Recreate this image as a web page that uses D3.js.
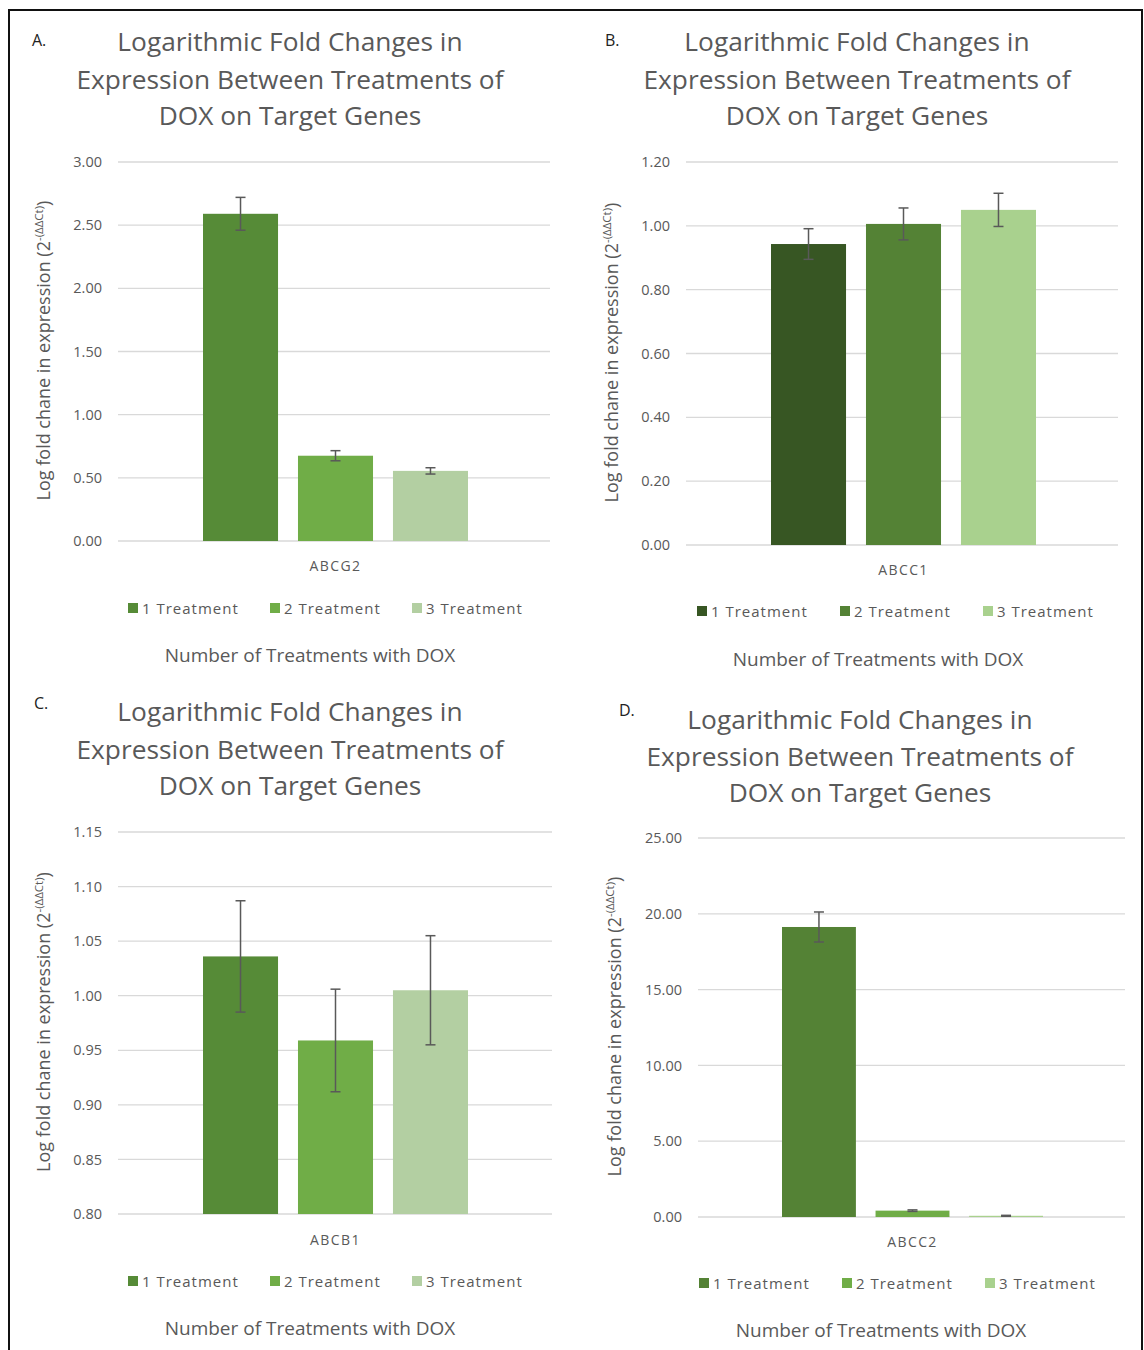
<!DOCTYPE html>
<html>
<head>
<meta charset="utf-8">
<script src="https://cdn.jsdelivr.net/npm/d3@7"></script>
<style>
  html, body { margin: 0; padding: 0; background: #fff; }
  svg { display: block; font-family: "Open Sans", "Noto Sans", sans-serif; }
</style>
</head>
<body>
<svg id="chart" width="1144" height="1350"></svg>
<script>
// Treatment groups shared by all four panels
const treatments = ["1 Treatment", "2 Treatment", "3 Treatment"];

// Panel A: ABCG2
const geneA = "ABCG2";
const meanA = [2.59, 0.675, 0.555];
const errA = [0.13, 0.04, 0.025];
const ticksA = [0, 0.5, 1.0, 1.5, 2.0, 2.5, 3.0];

// Panel B: ABCC1
const geneB = "ABCC1";
const meanB = [0.943, 1.006, 1.05];
const errB = [0.048, 0.05, 0.052];
const ticksB = [0, 0.2, 0.4, 0.6, 0.8, 1.0, 1.2];

// Panel C: ABCB1
const geneC = "ABCB1";
const meanC = [1.036, 0.959, 1.005];
const errC = [0.051, 0.047, 0.05];
const ticksC = [0.80, 0.85, 0.90, 0.95, 1.00, 1.05, 1.10, 1.15];

// Panel D: ABCC2
const geneD = "ABCC2";
const meanD = [19.13, 0.42, 0.08];
const errD = [0.99, 0.05, 0.03];
const ticksD = [0, 5, 10, 15, 20, 25];

const titleLines = ["Logarithmic Fold Changes in", "Expression Between Treatments of", "DOX on Target Genes"];
const xTitle = "Number of Treatments with DOX";

const svg = d3.select("#chart");
const textGray = "#595959";

// outer frame
svg.append("path")
  .attr("d", "M9,1352 V10 H1142 V1352")
  .attr("fill", "none").attr("stroke", "#111").attr("stroke-width", 2);

const panels = [
  { letter: "A.", lx: 32, ly: 46, tcx: 290, ty: [51, 89, 125],
    gene: geneA, mean: meanA, err: errA, ticks: ticksA,
    colors: ["#568b37", "#70ad47", "#b3cfa2"],
    yTop: 162, yBot: 541, gx0: 118, gx1: 550, bx0: 203, bx1: 468, tickX: 102,
    yLabX: 50, catY: 571, legY: 608, legX: [128, 270, 412], axY: 662, axX: 310 },
  { letter: "B.", lx: 605, ly: 46, tcx: 857, ty: [51, 89, 125],
    gene: geneB, mean: meanB, err: errB, ticks: ticksB,
    colors: ["#375623", "#548235", "#a9d18e"],
    yTop: 162, yBot: 545, gx0: 686, gx1: 1118, bx0: 771, bx1: 1036, tickX: 670,
    yLabX: 618, catY: 575, legY: 611, legX: [697, 840, 983], axY: 666, axX: 878 },
  { letter: "C.", lx: 34, ly: 709, tcx: 290, ty: [721, 759, 795],
    gene: geneC, mean: meanC, err: errC, ticks: ticksC,
    colors: ["#568b37", "#70ad47", "#b3cfa2"],
    yTop: 832, yBot: 1214, gx0: 118, gx1: 552, bx0: 203, bx1: 468, tickX: 102,
    yLabX: 50, catY: 1245, legY: 1281, legX: [128, 270, 412], axY: 1335, axX: 310 },
  { letter: "D.", lx: 619, ly: 716, tcx: 860, ty: [729, 766, 802],
    gene: geneD, mean: meanD, err: errD, ticks: ticksD,
    colors: ["#548235", "#70ad47", "#a9d18e"],
    yTop: 838, yBot: 1217, gx0: 698, gx1: 1125, bx0: 782, bx1: 1043, tickX: 682,
    yLabX: 621, catY: 1247, legY: 1283, legX: [699, 842, 985], axY: 1337, axX: 881 }
];

panels.forEach(p => {
  const g = svg.append("g");

  g.append("text").attr("x", p.lx).attr("y", p.ly)
    .attr("font-size", 16).attr("fill", "#222").text(p.letter);

  g.selectAll(".title").data(titleLines).join("text")
    .attr("x", p.tcx).attr("y", (d, i) => p.ty[i])
    .attr("text-anchor", "middle").attr("font-size", 26.3)
    .attr("fill", textGray).text(d => d);

  const domain = [p.ticks[0], p.ticks[p.ticks.length - 1]];
  const y = d3.scaleLinear().domain(domain).range([p.yBot, p.yTop]);
  const x = d3.scaleBand().domain(treatments).range([p.bx0, p.bx1])
    .paddingInner(0.21).paddingOuter(0);

  // gridlines
  g.selectAll(".grid").data(p.ticks).join("line")
    .attr("x1", p.gx0).attr("x2", p.gx1)
    .attr("y1", d => y(d)).attr("y2", d => y(d))
    .attr("stroke", "#d9d9d9").attr("stroke-width", 1.3);

  // tick labels via axis
  const axis = d3.axisLeft(y).tickValues(p.ticks).tickFormat(d3.format(".2f")).tickSize(0).tickPadding(0);
  const ag = g.append("g").attr("transform", `translate(${p.tickX},0)`).call(axis);
  ag.select(".domain").remove();
  ag.selectAll("text").attr("font-size", 14.5).attr("fill", textGray)
    .attr("font-family", "\"Open Sans\", sans-serif");

  // bars
  g.selectAll(".bar").data(treatments).join("rect")
    .attr("x", d => x(d)).attr("width", x.bandwidth())
    .attr("y", (d, i) => y(p.mean[i]))
    .attr("height", (d, i) => y(domain[0]) - y(p.mean[i]))
    .attr("fill", (d, i) => p.colors[i]);

  // error bars
  const eb = g.selectAll(".err").data(treatments).join("g")
    .attr("stroke", "#595959").attr("stroke-width", 1.5);
  eb.append("line")
    .attr("x1", d => x(d) + x.bandwidth() / 2).attr("x2", d => x(d) + x.bandwidth() / 2)
    .attr("y1", (d, i) => y(p.mean[i] + p.err[i])).attr("y2", (d, i) => y(p.mean[i] - p.err[i]));
  [1, -1].forEach(s => {
    eb.append("line")
      .attr("x1", d => x(d) + x.bandwidth() / 2 - 5).attr("x2", d => x(d) + x.bandwidth() / 2 + 5)
      .attr("y1", (d, i) => y(p.mean[i] + s * p.err[i])).attr("y2", (d, i) => y(p.mean[i] + s * p.err[i]));
  });

  // category label
  g.append("text").attr("x", (p.bx0 + p.bx1) / 2).attr("y", p.catY)
    .attr("text-anchor", "middle").attr("font-size", 14).attr("fill", textGray)
    .attr("letter-spacing", 1.4).text(p.gene);

  // legend
  const lg = g.selectAll(".leg").data(treatments).join("g")
    .attr("transform", (d, i) => `translate(${p.legX[i]},${p.legY})`);
  lg.append("rect").attr("x", 0).attr("y", -5).attr("width", 10).attr("height", 10)
    .attr("fill", (d, i) => p.colors[i]);
  lg.append("text").attr("x", 14).attr("y", 5.5).attr("font-size", 15)
    .attr("fill", textGray).attr("letter-spacing", 1).text(d => d);

  // x axis title
  g.append("text").attr("x", p.axX).attr("y", p.axY).attr("text-anchor", "middle")
    .attr("font-size", 19).attr("fill", textGray).text(xTitle);

  // y axis title with superscript exponent
  const yl = g.append("text")
    .attr("transform", `translate(${p.yLabX},${(p.yTop + p.yBot) / 2 - 1}) rotate(-90)`)
    .attr("text-anchor", "middle").attr("font-size", 18).attr("fill", textGray);
  yl.append("tspan").text("Log fold chane in expression (2");
  yl.append("tspan").attr("font-size", 11.5).attr("dy", -7).text("-(ΔΔCt)");
  yl.append("tspan").attr("dy", 7).text(")");
});
</script>
</body>
</html>
